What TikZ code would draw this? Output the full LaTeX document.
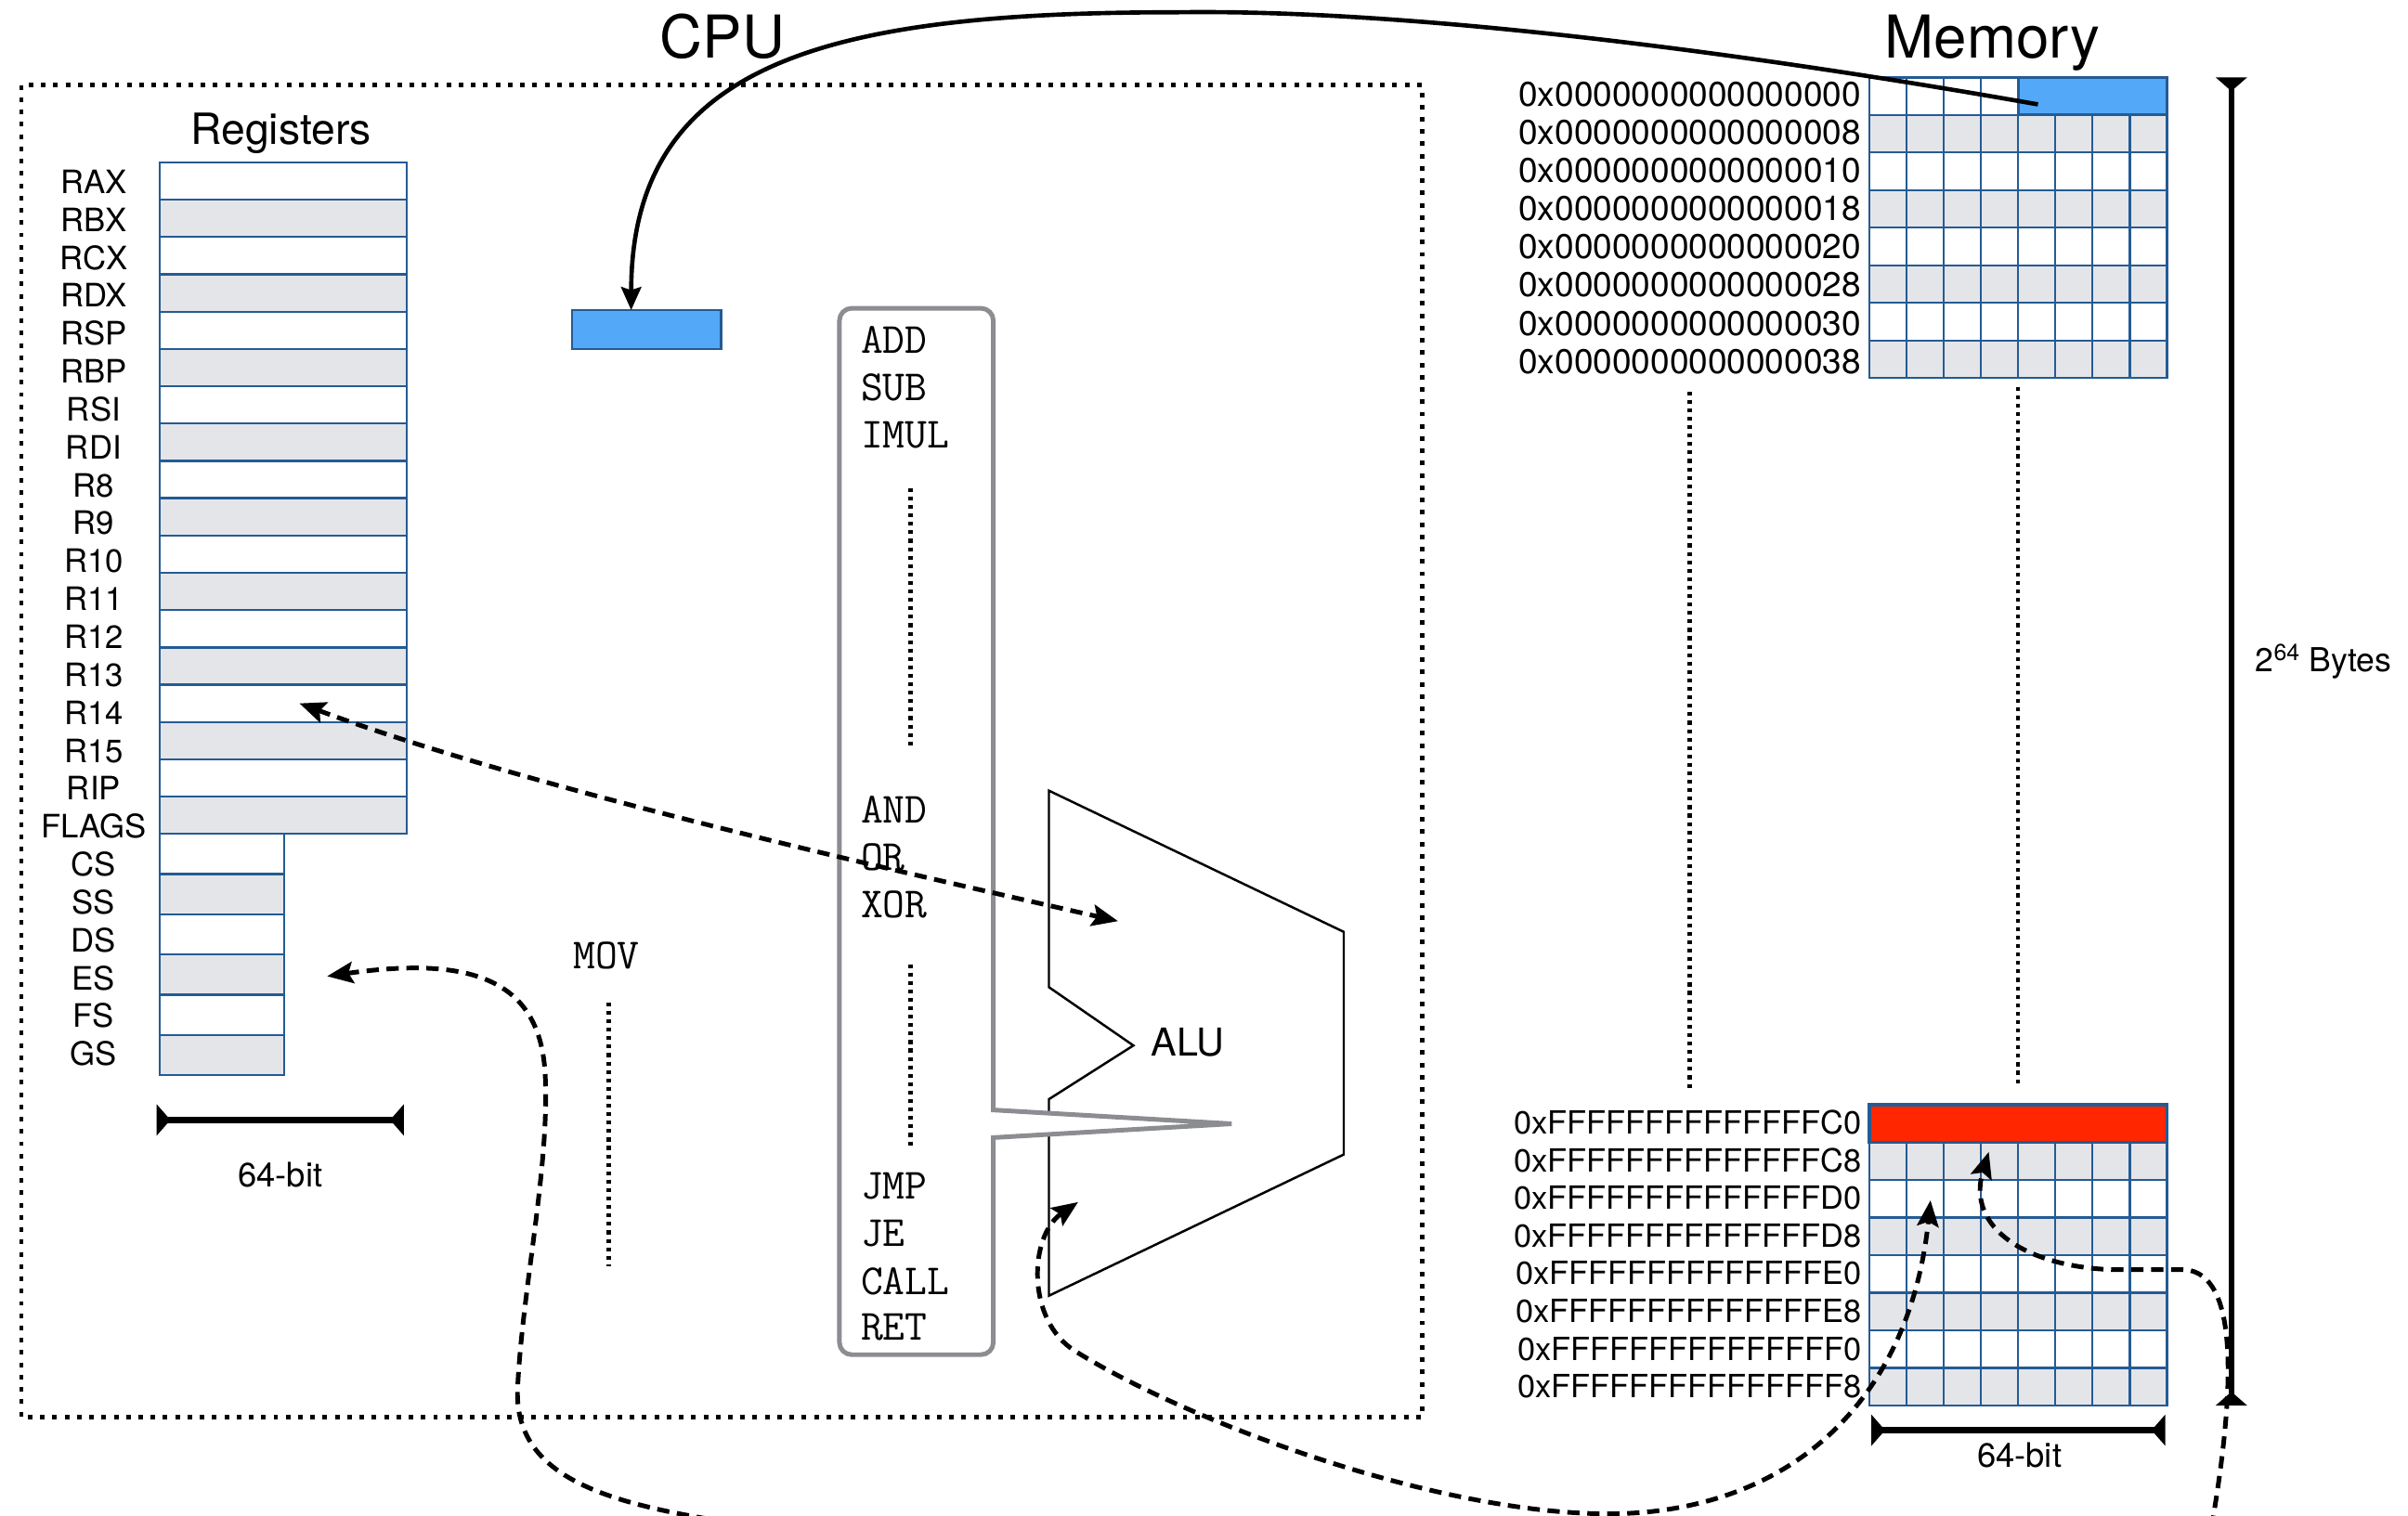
\documentclass[tikz,border=0pt]{standalone}
\usepackage{fontspec}
\setmainfont{TeX Gyre Heros}
\usetikzlibrary{arrows.meta,calc}

\definecolor{gridblue}{HTML}{245B94}
\definecolor{cellgray}{HTML}{E4E5E9}
\definecolor{cellblue}{HTML}{53A8F8}
\definecolor{cellred}{HTML}{FF2600}
\definecolor{framegray}{HTML}{8B8D91}

\tikzset{
  flowtip/.tip={Stealth[length=17pt,width=14pt,inset=3pt]},
  bartip/.tip={Triangle[reversed,length=9pt,width=20pt]},
}

\begin{document}
\begin{tikzpicture}[x=1pt,y=-1pt,
  cell/.style={draw=gridblue, line width=1.4pt, inner sep=0pt, outer sep=0pt, anchor=north west},
  lbl/.style={font=\fontsize{21}{24}\selectfont, anchor=base, inner sep=0pt},
  addr/.style={anchor=base east, inner sep=0pt},
  heading/.style={font=\fontsize{38.5}{44}\selectfont, anchor=base, inner sep=0pt},
  op/.style={font=\ttfamily\fontsize{28}{30}\selectfont, anchor=base west, inner sep=0pt},
  fine dots/.style={line width=3pt, dash pattern=on 2.5pt off 3pt},
  span bar/.style={line width=4pt, bartip-bartip},
  flow/.style={line width=3pt, dash pattern=on 8pt off 5pt},
]
\useasboundingbox (0,0) rectangle (1568,987);
\fill[white] (0,0) rectangle (1568,987);
\clip (0,0) rectangle (1568,987);

% ---------------- CPU ----------------
\node[heading] (cputitle) at (470.4,38) {CPU};
\draw[line width=3pt, dash pattern=on 3pt off 5pt] (13.9,55.5) rectangle (926,923.3);

% general purpose registers
\node[font=\fontsize{28}{32}\selectfont, anchor=base, inner sep=0pt] (regtitle) at (183,94) {Registers};
\foreach \nm [count=\i from 0] in {RAX,RBX,RCX,RDX,RSP,RBP,RSI,RDI,R8,R9,R10,R11,R12,R13,R14,R15,RIP,FLAGS}{
  \pgfmathsetmacro\yt{105.8+24.3*\i}
  \pgfmathsetmacro\yl{126+24.7*\i}
  \ifodd\i \def\shade{cellgray}\else\def\shade{white}\fi
  \node[cell, fill=\shade, minimum width=161pt, minimum height=24.3pt] (r\i) at (104,\yt) {};
  \node[lbl] (rl\i) at (61,\yl) {\nm};
}
% segment registers
\foreach \nm [count=\i from 0] in {CS,SS,DS,ES,FS,GS}{
  \pgfmathsetmacro\yt{543.2+26.2*\i}
  \pgfmathsetmacro\yl{126+24.7*(\i+18)}
  \ifodd\i \def\shade{cellgray}\else\def\shade{white}\fi
  \node[cell, fill=\shade, minimum width=81pt, minimum height=26.2pt] (s\i) at (104,\yt) {};
  \node[lbl] (sl\i) at (61,\yl) {\nm};
}
\coordinate (rbarL) at (102,729.5);
\coordinate (rbarR) at (263,729.5);
\draw[span bar] (rbarL) -- (rbarR);
\node[font=\fontsize{22}{24}\selectfont, anchor=base, inner sep=0pt] (rbits) at (182.5,773) {64-bit};

% register loaded from memory
\node[cell, fill=cellblue, line width=1.6pt, minimum width=97pt, minimum height=25.3pt] (cpuword) at (372.5,202) {};

% MOV
\node[op] (mov) at (373,631) {MOV};
\coordinate (movdA) at (396.4,653);
\coordinate (movdB) at (396.4,825);
\draw[fine dots] (movdA) -- (movdB);

% ALU
\draw[line width=1.5pt, line join=miter] (683,515) -- (875,607) -- (875,752) -- (683,844)
  -- (683,716) -- (738,681) -- (683,643) -- cycle;
\node[font=\fontsize{25}{28}\selectfont, anchor=base, inner sep=0pt] (alulabel) at (773.5,688) {ALU};

% instruction set with its pointer into the ALU
\filldraw[fill=white, draw=framegray, line width=3pt, line join=miter]
  (646.8,741) -- (646.8,874.4) .. controls (646.8,878.8) and (643.2,882.4) .. (638.8,882.4)
  -- (554.6,882.4) .. controls (550.2,882.4) and (546.6,878.8) .. (546.6,874.4)
  -- (546.6,208.8) .. controls (546.6,204.4) and (550.2,200.8) .. (554.6,200.8)
  -- (638.8,200.8) .. controls (643.2,200.8) and (646.8,204.4) .. (646.8,208.8)
  -- (646.8,723) -- (802,732) -- cycle;
\node[op] (add)  at (560.4,230)   {ADD};
\node[op] (sub)  at (560.4,261)   {SUB};
\node[op] (imul) at (560.4,291.5) {IMUL};
\node[op] (and)  at (560.4,536)   {AND};
\node[op] (or)   at (560.4,567)   {OR};
\node[op] (xor)  at (560.4,597.5) {XOR};
\node[op] (jmp)  at (560.4,781)   {JMP};
\node[op] (je)   at (560.4,812)   {JE};
\node[op] (call) at (560.4,843)   {CALL};
\node[op] (ret)  at (560.4,873)   {RET};
\coordinate (opdA) at (593,318);
\coordinate (opdB) at (593,488);
\coordinate (opdC) at (593,628);
\coordinate (opdD) at (593,746);
\draw[fine dots] (opdA) -- (opdB);
\draw[fine dots] (opdC) -- (opdD);

% ---------------- Memory ----------------
\node[heading] (memtitle) at (1297.5,38) {Memory};

% low addresses
\foreach \a [count=\r from 0] in {0000000000000000,0000000000000008,0000000000000010,0000000000000018,
                                  0000000000000020,0000000000000028,0000000000000030,0000000000000038}{
  \pgfmathsetmacro\yt{50.4+24.49*\r}
  \ifodd\r \def\shade{cellgray}\else\def\shade{white}\fi
  \foreach \c in {0,...,7}{
    \pgfmathsetmacro\xl{1217.2+24.23*\c}
    \node[cell, fill=\shade, minimum width=24.23pt, minimum height=24.49pt] (mt\r c\c) at (\xl,\yt) {};
  }
  \node[addr, font=\fontsize{22.4}{24}\selectfont] (mta\r) at (1212,{69.5+24.8*\r}) {0x\a};
}
\node[cell, fill=cellblue, line width=2pt, minimum width=96.9pt, minimum height=24.49pt] (word0) at (1314.1,50.4) {};

% high addresses
\foreach \a [count=\r from 0] in {FFFFFFFFFFFFFFC0,FFFFFFFFFFFFFFC8,FFFFFFFFFFFFFFD0,FFFFFFFFFFFFFFD8,
                                  FFFFFFFFFFFFFFE0,FFFFFFFFFFFFFFE8,FFFFFFFFFFFFFFF0,FFFFFFFFFFFFFFF8}{
  \pgfmathsetmacro\yt{719.6+24.49*\r}
  \ifodd\r \def\shade{cellgray}\else\def\shade{white}\fi
  \foreach \c in {0,...,7}{
    \pgfmathsetmacro\xl{1217.2+24.23*\c}
    \node[cell, fill=\shade, minimum width=24.23pt, minimum height=24.49pt] (mb\r c\c) at (\xl,\yt) {};
  }
  \node[addr, font=\fontsize{20.8}{24}\selectfont] (mba\r) at (1212.5,{738.6+24.56*\r}) {0x\a};
}
\node[cell, fill=cellred, line width=2pt, minimum width=193.8pt, minimum height=24.49pt] (wordtop) at (1217.2,719.6) {};

% elided rows
\coordinate (mdA) at (1100.5,255);
\coordinate (mdB) at (1100.5,710);
\coordinate (mdC) at (1314,252);
\coordinate (mdD) at (1314,706);
\draw[fine dots] (mdA) -- (mdB);
\draw[fine dots] (mdC) -- (mdD);

% sizes
\coordinate (mbarL) at (1218.5,931.6);
\coordinate (mbarR) at (1410,931.6);
\draw[span bar] (mbarL) -- (mbarR);
\node[font=\fontsize{22}{24}\selectfont, anchor=base, inner sep=0pt] (mbits) at (1315,955.7) {64-bit};
\coordinate (spanT) at (1453,50.4);
\coordinate (spanB) at (1453,915.5);
\draw[span bar] (spanT) -- (spanB);
\node[font=\fontsize{21.5}{24}\selectfont, anchor=base, inner sep=0pt] (bytes) at (1513,437.8) {2\textsuperscript{64} Bytes};

% ---------------- data movement ----------------
\coordinate (src) at (1327,68);
\draw[line width=2.8pt, -{Stealth[length=15pt,width=13pt,inset=2pt]}]
  (src) .. controls (1100,28) and (900,6) .. (766,8)
  .. controls (540,8) and (411,40) .. ($(cpuword.north)+(-10,0)$);

\coordinate (aluin) at (728,600);
\draw[flow, flowtip-flowtip] ($(r14.center)+(10.5,0)$) .. controls (340,512) and (560,562) .. (aluin);

\coordinate (esfoot) at (500,995);
\draw[flow, -flowtip] (esfoot) .. controls (400,982) and (335,965) .. (337,905)
  .. controls (340,840) and (358,760) .. (355,700)
  .. controls (352,640) and (310,622) .. ($(s3.east)+(28,1)$);

\coordinate (alujmp) at (702,783);
\draw[flow, flowtip-flowtip] (alujmp) .. controls (670,805) and (668,860) .. (700,880)
  .. controls (780,930) and (960,995) .. (1071,985)
  .. controls (1180,975) and (1245,900) .. ($(mb2c1.center)+(3.5,1)$);

\coordinate (memfoot) at (1440,995);
\draw[flow, -flowtip] (memfoot) .. controls (1458,890) and (1455,826) .. (1420,827)
  -- (1375,827) .. controls (1320,825) and (1280,800) .. ($(mb1c3.center)+(-7,-6)$);
\end{tikzpicture}
\end{document}
